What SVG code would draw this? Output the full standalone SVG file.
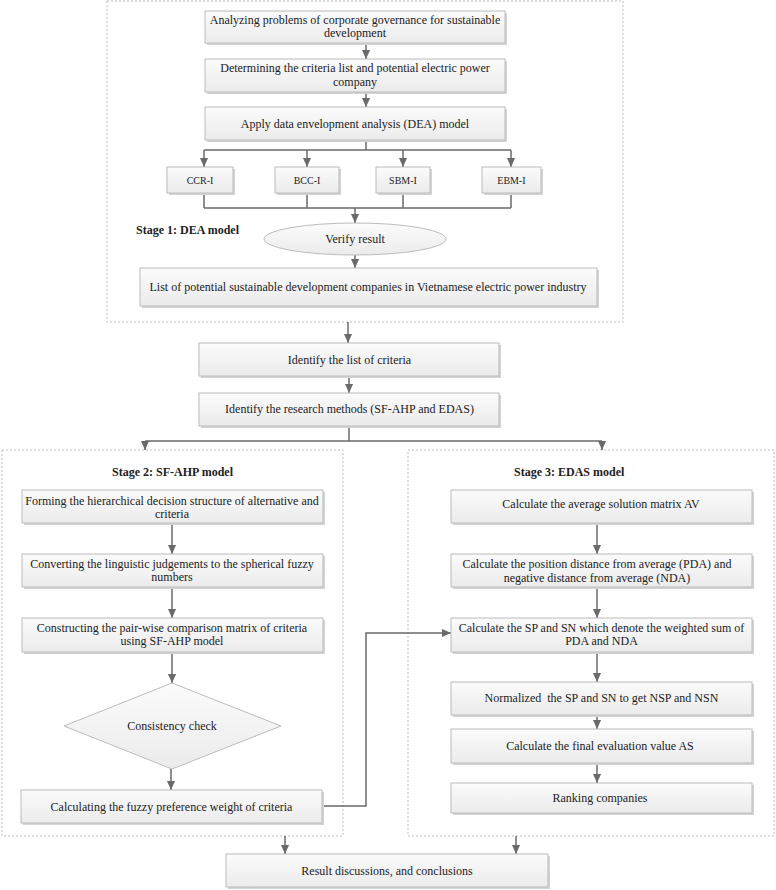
<svg xmlns="http://www.w3.org/2000/svg" width="776" height="890" viewBox="0 0 776 890">
<style>
text{font-family:"Liberation Serif","Times New Roman",serif;font-size:12px;fill:#222;text-anchor:middle}
.t{font-weight:bold;text-anchor:start}
.s{font-size:10px}
.box{fill:url(#g);stroke:#bcbcbc;stroke-width:1}
.sh{fill:#d4d4d4}
.cont{fill:none;stroke:#bdbdbd;stroke-width:1;stroke-dasharray:2 2}
.ln{fill:none;stroke:#6a6a6a;stroke-width:1.5}
.ar{fill:none;stroke:#6a6a6a;stroke-width:1.5;marker-end:url(#ah)}
</style>
<defs>
<linearGradient id="g" x1="0" y1="0" x2="0" y2="1"><stop offset="0" stop-color="#fbfbfb"/><stop offset="1" stop-color="#ebebeb"/></linearGradient>
<marker id="ah" markerUnits="userSpaceOnUse" viewBox="0 0 10 10" refX="10" refY="5" markerWidth="9" markerHeight="9" orient="auto"><path d="M0,0.5 L10,5 L0,9.5 z" fill="#6a6a6a"/></marker>
</defs>
<g id="containers">
<rect class="cont" x="107" y="1" width="516" height="321"/>
<rect class="cont" x="2" y="450" width="341" height="386"/>
<rect class="cont" x="408" y="450" width="366" height="386"/>
<text class="t" x="136" y="234">Stage 1: DEA model</text>
<text class="t" x="112" y="476">Stage 2: SF-AHP model</text>
<text class="t" x="514" y="476">Stage 3: EDAS model</text>
</g>
<g id="connectors">
<path class="ar" d="M366,43 V59"/>
<path class="ar" d="M366,92 V107"/>
<path class="ln" d="M366,140 V150 M204,150 H511"/>
<path class="ar" d="M204,150 V167"/>
<path class="ar" d="M307,150 V167"/>
<path class="ar" d="M403,150 V167"/>
<path class="ar" d="M511,150 V167"/>
<path class="ln" d="M204,193 V208 M307,193 V208 M403,193 V208 M511,193 V208 M204,208 H511"/>
<path class="ar" d="M355,208 V223"/>
<path class="ar" d="M355,255 V268"/>
<path class="ar" d="M348,322 V343"/>
<path class="ar" d="M349,376 V393"/>
<path class="ln" d="M349,426 V441 M145,441 H602"/>
<path class="ar" d="M145,441 V450"/>
<path class="ar" d="M602,441 V450"/>
<path class="ar" d="M172,523 V554"/>
<path class="ar" d="M172,587 V618"/>
<path class="ar" d="M172,652 V683"/>
<path class="ar" d="M171,769 V790"/>
<path class="ar" d="M322,806 H366 V633 H451"/>
<path class="ar" d="M597,523 V554"/>
<path class="ar" d="M597,587 V618"/>
<path class="ar" d="M597,652 V682"/>
<path class="ar" d="M597,715 V729"/>
<path class="ar" d="M597,763 V783"/>
<path class="ar" d="M285,836 V854"/>
<path class="ar" d="M516,836 V854"/>
</g>
<g id="n-analyzing"><rect class="sh" x="207" y="13" width="300" height="32"/><rect class="box" x="205" y="11" width="300" height="32"/><text x="355" y="24">Analyzing problems of corporate governance for sustainable</text><text x="355" y="37">development</text></g>
<g id="n-determining"><rect class="sh" x="207" y="61" width="300" height="33"/><rect class="box" x="205" y="59" width="300" height="33"/><text x="355" y="72">Determining the criteria list and potential electric power</text><text x="355" y="86">company</text></g>
<g id="n-apply"><rect class="sh" x="207" y="109" width="300" height="33"/><rect class="box" x="205" y="107" width="300" height="33"/><text x="355" y="128">Apply data envelopment analysis (DEA) model</text></g>
<g id="n-ccr"><rect class="sh" x="169" y="169" width="66" height="26"/><rect class="box" x="167" y="167" width="66" height="26"/><text class="s" x="200" y="183.5">CCR-I</text></g>
<g id="n-bcc"><rect class="sh" x="277" y="169" width="64" height="26"/><rect class="box" x="275" y="167" width="64" height="26"/><text class="s" x="307" y="183.5">BCC-I</text></g>
<g id="n-sbm"><rect class="sh" x="378" y="169" width="54" height="26"/><rect class="box" x="376" y="167" width="54" height="26"/><text class="s" x="403" y="183.5">SBM-I</text></g>
<g id="n-ebm"><rect class="sh" x="484" y="169" width="59" height="26"/><rect class="box" x="482" y="167" width="59" height="26"/><text class="s" x="511.5" y="183.5">EBM-I</text></g>
<g id="n-verify"><ellipse cx="355" cy="239" rx="91" ry="16" fill="url(#g)" stroke="#bcbcbc"/><text x="355" y="243">Verify result</text></g>
<g id="n-list"><rect class="sh" x="142" y="270" width="457" height="38"/><rect class="box" x="140" y="268" width="457" height="38"/><text x="368" y="291">List of potential sustainable development companies in Vietnamese electric power industry</text></g>
<g id="n-criteria"><rect class="sh" x="201" y="345" width="300" height="33"/><rect class="box" x="199" y="343" width="300" height="33"/><text x="349.5" y="364">Identify the list of criteria</text></g>
<g id="n-methods"><rect class="sh" x="201" y="395" width="300" height="33"/><rect class="box" x="199" y="393" width="300" height="33"/><text x="349.5" y="413">Identify the research methods (SF-AHP and EDAS)</text></g>
<g id="n-forming"><rect class="sh" x="24" y="492" width="301" height="33"/><rect class="box" x="22" y="490" width="301" height="33"/><text x="172" y="505">Forming the hierarchical decision structure of alternative and</text><text x="172" y="518">criteria</text></g>
<g id="n-converting"><rect class="sh" x="24" y="556" width="301" height="33"/><rect class="box" x="22" y="554" width="301" height="33"/><text x="172" y="568">Converting the linguistic judgements to the spherical fuzzy</text><text x="172" y="581">numbers</text></g>
<g id="n-constructing"><rect class="sh" x="24" y="620" width="301" height="34"/><rect class="box" x="22" y="618" width="301" height="34"/><text x="172" y="632">Constructing the pair-wise comparison matrix of criteria</text><text x="172" y="645">using SF-AHP model</text></g>
<g id="n-consistency"><polygon points="172,683 281,726 172,769 64,726" fill="url(#g)" stroke="#bcbcbc"/><text x="172" y="730">Consistency check</text></g>
<g id="n-calculating"><rect class="sh" x="23" y="792" width="301" height="33"/><rect class="box" x="21" y="790" width="301" height="33"/><text x="171.5" y="811">Calculating the fuzzy preference weight of criteria</text></g>
<g id="n-av"><rect class="sh" x="453" y="492" width="301" height="33"/><rect class="box" x="451" y="490" width="301" height="33"/><text x="601" y="508">Calculate the average solution matrix AV</text></g>
<g id="n-pda"><rect class="sh" x="453" y="556" width="301" height="33"/><rect class="box" x="451" y="554" width="301" height="33"/><text x="597" y="568">Calculate the position distance from average (PDA) and</text><text x="597" y="582">negative distance from average (NDA)</text></g>
<g id="n-sp"><rect class="sh" x="453" y="620" width="301" height="34"/><rect class="box" x="451" y="618" width="301" height="34"/><text x="601.5" y="632">Calculate the SP and SN which denote the weighted sum of</text><text x="601.5" y="645">PDA and NDA</text></g>
<g id="n-normalized"><rect class="sh" x="453" y="684" width="301" height="33"/><rect class="box" x="451" y="682" width="301" height="33"/><text x="601.5" y="702" xml:space="preserve">Normalized  the SP and SN to get NSP and NSN</text></g>
<g id="n-final"><rect class="sh" x="453" y="731" width="301" height="34"/><rect class="box" x="451" y="729" width="301" height="34"/><text x="600" y="750">Calculate the final evaluation value AS</text></g>
<g id="n-ranking"><rect class="sh" x="453" y="785" width="301" height="30"/><rect class="box" x="451" y="783" width="301" height="30"/><text x="600" y="802">Ranking companies</text></g>
<g id="n-result"><rect class="sh" x="228" y="856" width="322" height="33"/><rect class="box" x="226" y="854" width="322" height="33"/><text x="387" y="875">Result discussions, and conclusions</text></g>
</svg>
